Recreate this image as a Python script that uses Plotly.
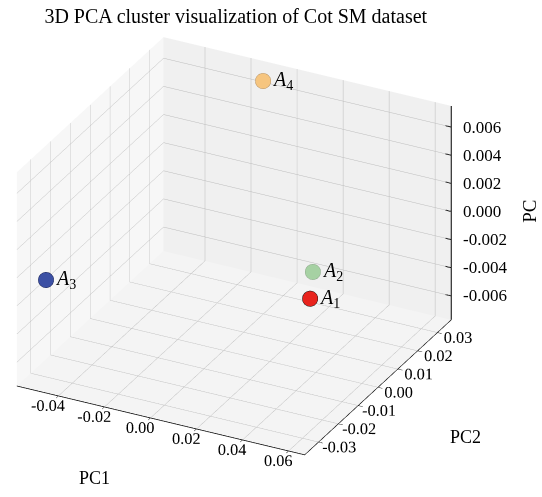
import math
import plotly.graph_objects as go

# PCA coordinates of the four samples
labels = ["1", "2", "3", "4"]
pc1 = [0.0575, 0.0093, -0.0525, -0.0095]
pc2 = [-0.0233, 0.0341, -0.0288, 0.0308]
pc3 = [0.00127, -0.00616, -0.00099, 0.0071]

fill_colors = ["#e8231d", "#a6d1a3", "#3c50a4", "#f6c57f"]
edge_colors = ["#1a1a1a", "#8fa98d", "#1c2555", "#b8966a"]

x_ticks = [-0.04, -0.02, 0.00, 0.02, 0.04, 0.06]
y_ticks = [-0.03, -0.02, -0.01, 0.00, 0.01, 0.02, 0.03]
z_ticks = [-0.006, -0.004, -0.002, 0.000, 0.002, 0.004, 0.006]

x_range = [-0.058, 0.067]
y_range = [-0.037, 0.037]
z_range = [-0.0077, 0.0075]

FONT = "Liberation Serif"
GL_TICK_FONT = dict(family=FONT, size=14, color="black")
TICK_FONT = dict(family=FONT, size=17, color="black")
LABEL_FONT = dict(family=FONT, size=18, color="black")

fig = go.Figure()
for i in range(len(labels)):
    fig.add_trace(go.Scatter3d(
        x=[pc1[i]], y=[pc2[i]], z=[pc3[i]],
        mode="markers",
        marker=dict(size=9, color=fill_colors[i], opacity=1,
                    line=dict(color=edge_colors[i], width=1.5)),
        showlegend=False, hoverinfo="skip",
    ))

# vertical axis drawn on the right-hand corner of the box
eps = 1e-6
zx, zy = x_range[1] - eps, y_range[1] - eps
fig.add_trace(go.Scatter3d(
    x=[zx, zx], y=[zy, zy], z=[z_range[0] + eps, z_range[1] - eps],
    mode="lines", line=dict(color="black", width=2),
    showlegend=False, hoverinfo="skip"))
tick_dx = (x_range[1] - x_range[0]) * 0.02
tx, ty, tz = [], [], []
for v in z_ticks:
    tx += [zx, zx - tick_dx, None]
    ty += [zy, zy, None]
    tz += [v, v, None]
fig.add_trace(go.Scatter3d(
    x=tx, y=ty, z=tz, mode="lines",
    line=dict(color="black", width=2), showlegend=False, hoverinfo="skip"))

annotations = [
    dict(x=pc1[i], y=pc2[i], z=pc3[i],
         text="<i>A</i><sub>" + labels[i] + "</sub>",
         showarrow=False, xanchor="left", yanchor="middle", xshift=7,
         font=dict(family=FONT, size=20, color="black"))
    for i in range(len(labels))
]
annotations += [
    dict(x=zx, y=zy, z=v, text=f"{v:.3f}", showarrow=False,
         xanchor="left", yanchor="middle", xshift=10, font=TICK_FONT)
    for v in z_ticks
]

axis_common = dict(
    showbackground=True,
    gridcolor="rgb(188,188,188)",
    gridwidth=1,
    showline=True, linecolor="black", linewidth=1.5,
    ticks="outside", ticklen=5, tickcolor="black",
    tickfont=GL_TICK_FONT, tickangle=0,
    zeroline=False, showspikes=False,
    title=dict(text=""),
)

# viewing angles (degrees) and box scale
S = 1.34
azim, elev = -63.0, 28.0
horiz = 1.732
view_dir = (horiz * math.cos(math.radians(azim)),
            horiz * math.sin(math.radians(azim)),
            horiz * math.tan(math.radians(elev)))
shift = 0.153
center = dict(x=shift * -math.sin(math.radians(azim)),
              y=shift * math.cos(math.radians(azim)),
              z=0.0)

fig.update_layout(
    width=542, height=497,
    margin=dict(l=0, r=0, t=0, b=0),
    paper_bgcolor="white",
    title=dict(text="3D PCA cluster visualization of Cot SM dataset",
               x=0.435, xanchor="center", y=0.968, yanchor="middle",
               font=dict(family=FONT, size=20, color="black")),
    scene=dict(
        domain=dict(x=[0, 1], y=[0.02, 0.99]),
        xaxis=dict(axis_common, range=x_range, tickvals=x_ticks,
                   ticktext=[f"{v:.2f}" for v in x_ticks],
                   backgroundcolor="rgb(247,247,247)"),
        yaxis=dict(axis_common, range=y_range, tickvals=y_ticks,
                   ticktext=[f"{v:.2f}" for v in y_ticks],
                   backgroundcolor="rgb(240,240,240)"),
        zaxis=dict(axis_common, range=z_range, tickvals=z_ticks,
                   showticklabels=False, ticks="", showline=False,
                   backgroundcolor="rgb(244,244,244)"),
        aspectmode="manual",
        aspectratio=dict(x=S, y=S, z=0.75 * S),
        camera=dict(eye=dict(x=center["x"] + view_dir[0],
                             y=center["y"] + view_dir[1],
                             z=center["z"] + view_dir[2]),
                    center=center,
                    projection=dict(type="orthographic")),
        annotations=annotations,
    ),
    annotations=[
        dict(text="PC1", xref="paper", yref="paper", x=0.175, y=0.038,
             xanchor="center", yanchor="middle", showarrow=False, font=LABEL_FONT),
        dict(text="PC2", xref="paper", yref="paper", x=0.858, y=0.121,
             xanchor="center", yanchor="middle", showarrow=False, font=LABEL_FONT),
        dict(text="PC", xref="paper", yref="paper", x=1.0, y=0.575,
             xanchor="right", yanchor="middle", textangle=-90,
             showarrow=False, font=dict(family=FONT, size=19, color="black")),
    ],
)

fig.write_html("out.html")
